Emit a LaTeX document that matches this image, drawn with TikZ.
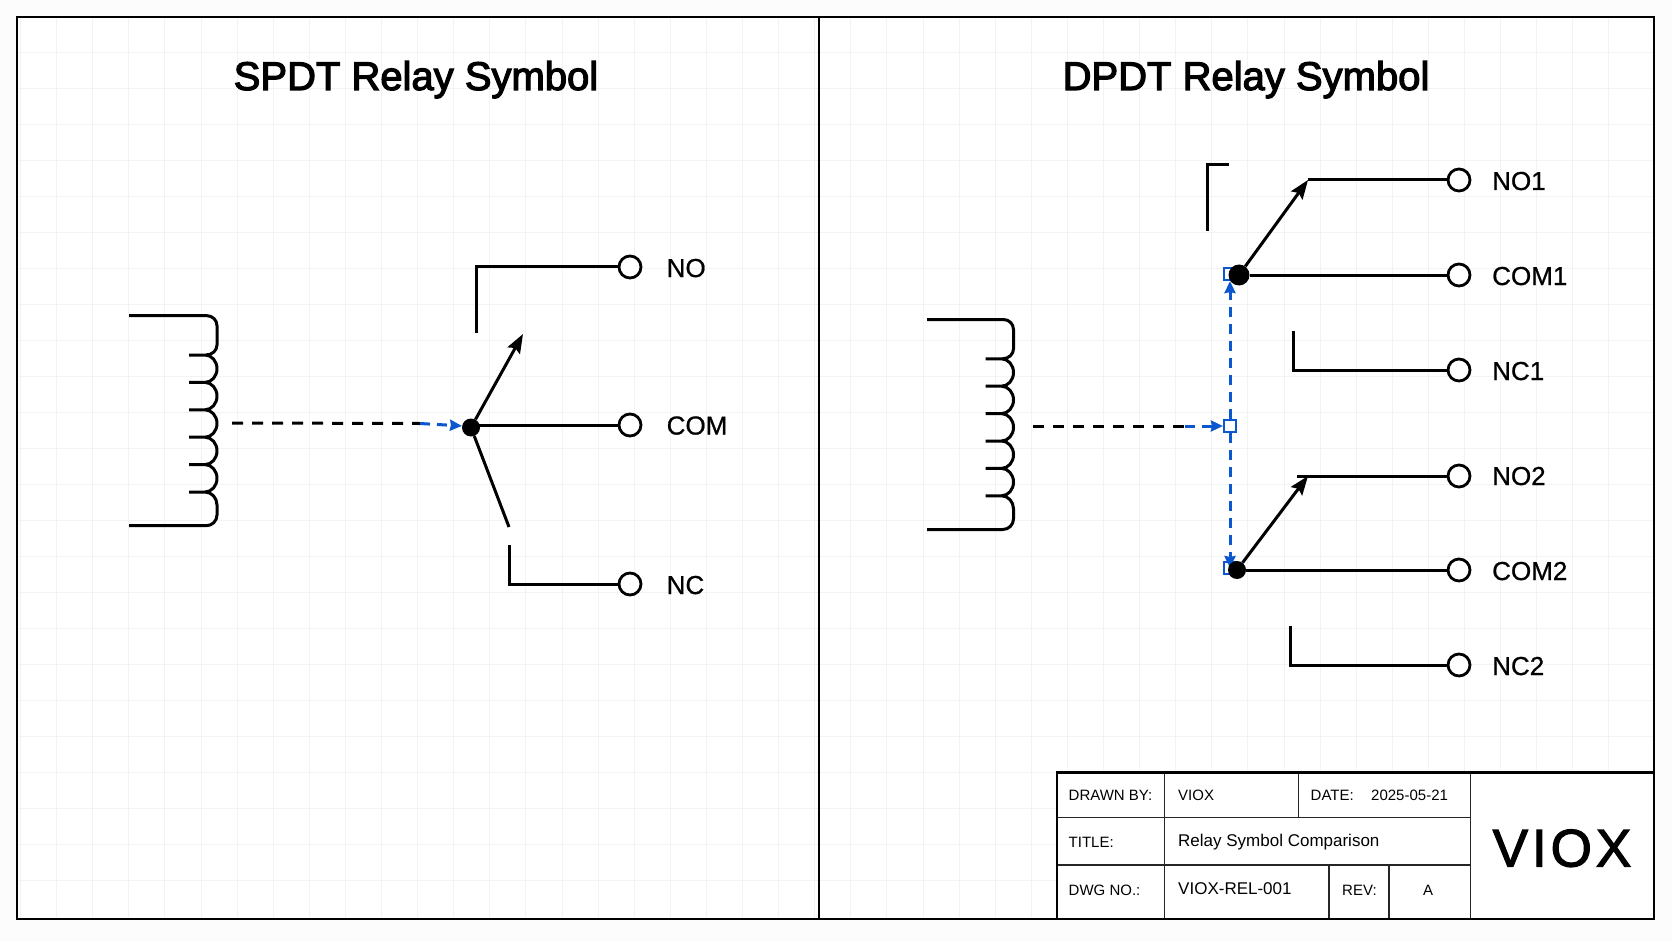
\documentclass[tikz,border=0pt]{standalone}
\usepackage{fontspec}
\setmainfont{Liberation Sans}
\newfontfamily\headfont[FakeBold=3]{Liberation Sans}
\newfontfamily\labelfont[FakeBold=0.8]{Liberation Sans}
\newfontfamily\logofont[LetterSpace=7.5,FakeBold=2.2]{Liberation Sans}
\usetikzlibrary{arrows.meta}
\definecolor{gridc}{HTML}{F3F3F3}
\definecolor{bluec}{HTML}{0B57D0}
\newcommand{\coilstart}{129}
\tikzset{
  wire/.style={line width=3pt,black,line cap=butt,line join=miter},
  armarrow/.style={wire,-{Stealth[length=19pt,width=14pt,inset=3pt]}},
  actblack/.style={line width=3pt,black,dash pattern=on 11pt off 9pt},
  actblue/.style={line width=3pt,bluec,dash pattern=on 10pt off 7pt,-{Stealth[length=12pt,width=11pt,inset=1pt]}},
  terminal/.style={circle,draw=black,line width=2.8pt,fill=white,minimum size=22pt,inner sep=0pt},
  junction/.style={circle,fill=black,minimum size=18pt,inner sep=0pt},
  bigjunction/.style={circle,fill=black,minimum size=21pt,inner sep=0pt},
  handle/.style={rectangle,draw=bluec,line width=2.2pt,fill=white,minimum size=12pt,inner sep=0pt},
  handleb/.style={handle,fill=none},
  termlabel/.style={anchor=base west,inner sep=0pt,font=\labelfont\fontsize{26}{30}\selectfont},
  heading/.style={anchor=base,inner sep=0pt,font=\headfont\fontsize{40}{46}\selectfont},
  cell/.style={anchor=base west,inner sep=0pt,font=\fontsize{15}{18}\selectfont},
  cellbig/.style={anchor=base west,inner sep=0pt,font=\fontsize{17}{20}\selectfont},
  framel/.style={line width=2.2pt,black},
  tbl/.style={line width=1.4pt,black!85},
  coilsym/.pic={
    \draw[wire,line width=3pt,line join=round]
      (\coilstart,315.7) -- (207,315.7) arc[start angle=-90,end angle=0,radius=10]
      -- (217,345) arc[start angle=0,end angle=90,x radius=11,y radius=10] -- (189,355)
      (189,355) -- (205,355) arc[start angle=-90,end angle=90,x radius=12,y radius=13.7] -- (189,382.4)
      (189,382.4) -- (205,382.4) arc[start angle=-90,end angle=90,x radius=12,y radius=13.7] -- (189,409.8)
      (189,409.8) -- (205,409.8) arc[start angle=-90,end angle=90,x radius=12,y radius=13.7] -- (189,437.2)
      (189,437.2) -- (205,437.2) arc[start angle=-90,end angle=90,x radius=12,y radius=13.7] -- (189,464.6)
      (189,464.6) -- (205,464.6) arc[start angle=-90,end angle=90,x radius=12,y radius=13.7] -- (189,492)
      (189,492) -- (205,492) arc[start angle=-90,end angle=0,x radius=12,y radius=13]
      -- (217,515) arc[start angle=0,end angle=90,radius=10.7] -- (\coilstart,525.7);
  }
}
\begin{document}
\begin{tikzpicture}[x=1pt,y=-1pt]
\useasboundingbox (0,0) rectangle (1672,941);
\fill[white!99!black] (0,0) rectangle (1672,941);
\fill[white] (17,17) rectangle (1654,919);
% grid
\foreach \k in {0,...,44} \draw[gridc,line width=1pt] ({20.5+36.1*\k},18) -- ({20.5+36.1*\k},918);
\foreach \k in {1,...,24} \draw[gridc,line width=1pt] (18,{16.7+36*\k}) -- (1653,{16.7+36*\k});
% frame
\draw[framel] (17,17) rectangle (1654,919);
\draw[framel] (819,17) -- (819,919);
% headings
\node[heading] (h1) at (416,90) {SPDT Relay Symbol};
\node[heading] (h2) at (1246,90) {DPDT Relay Symbol};

% ---------- SPDT ----------
\pic at (0,0) {coilsym};
\coordinate (sa) at (232,423);
\coordinate (sb) at (420,423.5);
\node[terminal] (tno) at (630,267) {};
\node[terminal] (tcom) at (630,425) {};
\node[terminal] (tnc) at (630,584) {};
\node[termlabel] (lno) at (666.5,277) {NO};
\node[termlabel] (lcom) at (666.5,434.5) {COM};
\node[termlabel] (lnc) at (666.5,594) {NC};
\node[junction] (sdot) at (471,427.5) {};
\draw[actblack] (sa) -- (sb);
\draw[actblue] (sb) -- (sdot.170);
\coordinate (sup) at (523,334);
\coordinate (sdown) at (509,527);
\coordinate (snoend) at (476,333);
\coordinate (snoc) at (476,267);
\coordinate (sncend) at (509,545);
\coordinate (sncc) at (509,584);
\draw[armarrow] (sdot) -- (sup);
\draw[wire] (sdot) -- (sdown);
\draw[wire] (sdot |- tcom) -- (tcom);
\draw[wire] (snoend) -- (snoc) -- (tno);
\draw[wire] (sncend) -- (sncc) -- (tnc);

% ---------- DPDT ----------
\renewcommand{\coilstart}{130.5}
\pic at (796.5,3.8) {coilsym};
\coordinate (da) at (1033,426);
\coordinate (db) at (1185,426);
\node[handleb] (hu) at (1230,274) {};
\node[handleb] (hd) at (1230,568) {};
\node[handle] (hc) at (1230,426) {};
\draw[actblack] (da) -- (db);
\draw[actblue] (db) -- (hc);
\draw[actblue] (hc) -- (hu);
\draw[actblue] (hc) -- (hd.center);
\node[terminal] (tno1) at (1459,180) {};
\node[terminal] (tcom1) at (1459,275) {};
\node[terminal] (tnc1) at (1459,370) {};
\node[terminal] (tno2) at (1459,476) {};
\node[terminal] (tcom2) at (1459,570) {};
\node[terminal] (tnc2) at (1459,665) {};
\node[termlabel] (lno1) at (1492,190) {NO1};
\node[termlabel] (lcom1) at (1492,285) {COM1};
\node[termlabel] (lnc1) at (1492,380) {NC1};
\node[termlabel] (lno2) at (1492,485) {NO2};
\node[termlabel] (lcom2) at (1492,580) {COM2};
\node[termlabel] (lnc2) at (1492,675) {NC2};
\node[bigjunction] (d1) at (1239,275) {};
\node[junction] (d2) at (1237,570) {};
\coordinate (k1) at (1308,180);
\coordinate (k2) at (1308,476);
\coordinate (k2s) at (1297,476);
\draw[armarrow] (d1) -- (k1);
\draw[armarrow] (d2) -- (k2);
\draw[wire] (k1) -- (tno1);
\draw[wire] (k2s) -- (tno2);
\draw[wire] (d1) -- (tcom1);
\draw[wire] (d2) -- (tcom2);
\coordinate (b1a) at (1207,231);
\coordinate (b1b) at (1207,165);
\coordinate (b1c) at (1229,165);
\draw[wire] (b1a) -- (b1b) -- (b1c);
\coordinate (n1a) at (1293,331);
\coordinate (n1b) at (1293,370);
\draw[wire] (n1a) -- (n1b) -- (tnc1);
\coordinate (n2a) at (1290,626);
\coordinate (n2b) at (1290,665);
\draw[wire] (n2a) -- (n2b) -- (tnc2);

% ---------- title block ----------
\fill[white] (1057,772.5) rectangle (1654,919);
\draw[tbl] (1057,817.7) -- (1470.5,817.7);
\draw[tbl] (1057,865) -- (1470.5,865);
\draw[tbl] (1164.5,772.5) -- (1164.5,919);
\draw[tbl] (1298.5,772.5) -- (1298.5,817.7);
\draw[tbl] (1329,865) -- (1329,919);
\draw[tbl] (1389,865) -- (1389,919);
\draw[tbl,line width=1.6pt] (1470.5,772.5) -- (1470.5,919);
\draw[framel] (1057,919) -- (1057,772.5) -- (1654,772.5) -- (1654,919) -- cycle;
\node[cell] (c1) at (1068.5,800) {DRAWN BY:};
\node[cell] (c2) at (1178,800) {VIOX};
\node[cell] (c3) at (1310.5,800) {DATE:};
\node[cell] (c4) at (1371,800) {2025-05-21};
\node[cell] (c5) at (1068.5,847.5) {TITLE:};
\node[cellbig] (c6) at (1178,846) {Relay Symbol Comparison};
\node[cell] (c7) at (1068.5,895.5) {DWG NO.:};
\node[cellbig] (c8) at (1178,894) {VIOX-REL-001};
\node[cell] (c9) at (1342,895.5) {REV:};
\node[cell,anchor=base] (c10) at (1428,895) {A};
\node[anchor=base west,inner sep=0pt,font=\logofont\fontsize{53}{60}\selectfont] (logo) at (1492.5,866.5) {VIOX};
\end{tikzpicture}
\end{document}
